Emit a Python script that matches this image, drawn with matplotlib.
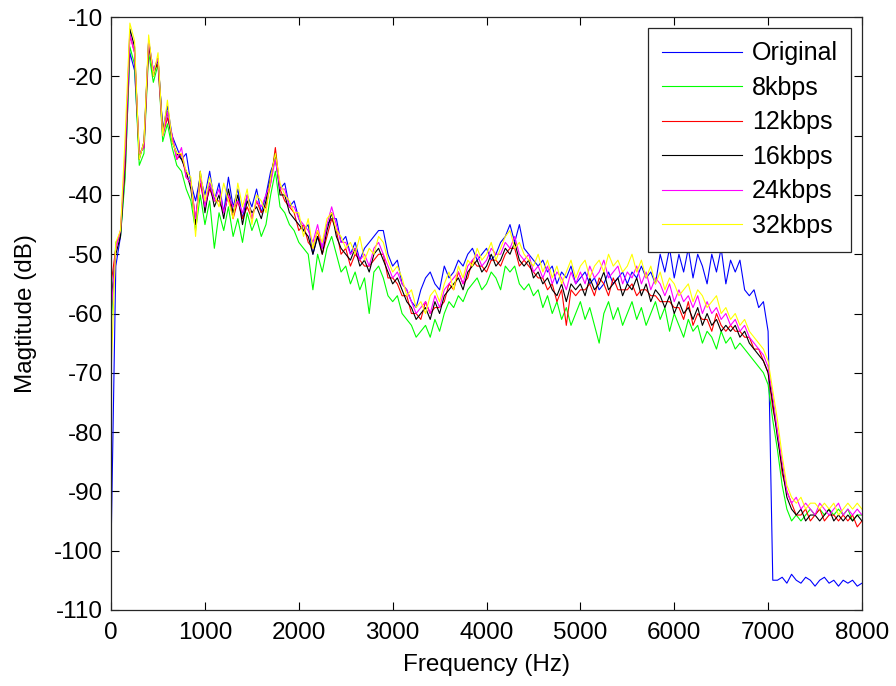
import numpy as np
import matplotlib
matplotlib.use('Agg')
import matplotlib.pyplot as plt

plt.rcParams['font.family'] = ['Liberation Sans', 'DejaVu Sans']
plt.rcParams['axes.unicode_minus'] = False

# частотная сетка, шаг 50 Гц
freq = np.arange(0, 8001, 50)

original = [
    -99, -52, -47, -36, -16, -19, -33, -32, -14, -19,
    -17, -29, -25, -30, -32, -34, -33, -38, -41, -37,
    -40, -36, -41, -38, -43, -37, -42, -39, -44, -40,
    -42, -39, -43, -40, -36, -34, -39, -38, -42, -41,
    -44, -46, -45, -50, -47, -49, -45, -44, -44, -48,
    -47, -50, -48, -51, -49, -48, -47, -46, -46, -50,
    -52, -51, -55, -56, -58, -59, -56, -54, -53, -55,
    -56, -52, -54, -53, -51, -52, -50, -49, -51, -50,
    -49, -51, -50, -48, -47, -45, -48, -45, -49, -50,
    -51, -52, -51, -53, -52, -55, -53, -54, -52, -55,
    -54, -53, -55, -54, -56, -55, -53, -55, -54, -53,
    -55, -53, -54, -52, -54, -53, -55, -50, -53, -49,
    -54, -50, -53, -49, -54, -50, -52, -55, -50, -53,
    -49, -55, -51, -53, -51, -56, -57, -56, -59, -58,
    -63, -105, -105, -104.5, -105.5, -104, -105, -105.5, -104.5, -105,
    -106, -105, -104.5, -105.5, -105, -106, -105, -105.5, -105, -106,
    -105.5,
]

kbps8 = [
    -62, -48, -47, -37, -15, -18, -35, -33, -16, -21,
    -18, -31, -28, -32, -35, -36, -39, -41, -46, -40,
    -45, -41, -49, -43, -46, -42, -47, -44, -48, -43,
    -46, -44, -47, -45, -40, -36, -42, -43, -45, -46,
    -48, -49, -50, -56, -50, -53, -49, -47, -50, -53,
    -52, -55, -53, -56, -54, -60, -53, -52, -54, -57,
    -58, -57, -60, -61, -62, -64, -63, -62, -64, -61,
    -63, -60, -58, -59, -57, -58, -56, -55, -54, -56,
    -55, -53, -54, -56, -52, -53, -52, -55, -56, -55,
    -57, -56, -59, -57, -60, -58, -61, -59, -62, -60,
    -58, -61, -59, -62, -65, -60, -58, -61, -59, -62,
    -60, -58, -61, -59, -62, -60, -58, -61, -59, -63,
    -60, -62, -64, -61, -63, -62, -65, -63, -64, -66,
    -63, -65, -64, -66, -65, -66, -67, -68, -69, -70,
    -72, -78, -83, -89, -93, -95, -94, -95, -94, -93,
    -94, -93, -94, -93, -94, -93, -94, -93, -95, -94,
    -94,
]

kbps12 = [
    -55, -49, -46, -35, -13, -16, -33, -32, -15, -19,
    -18, -30, -27, -30, -34, -33, -37, -38, -44, -38,
    -42, -39, -41, -41, -43, -40, -44, -41, -44, -42,
    -44, -41, -43, -42, -38, -32, -39, -41, -42, -43,
    -46, -45, -48, -49, -46, -50, -47, -44, -46, -50,
    -49, -52, -50, -51, -52, -52, -51, -50, -50, -54,
    -54, -55, -57, -57, -60, -60, -61, -58, -60, -59,
    -59, -58, -55, -56, -53, -55, -54, -51, -52, -52,
    -53, -51, -51, -52, -50, -49, -49, -52, -51, -52,
    -53, -54, -54, -56, -55, -58, -56, -62, -56, -57,
    -56, -56, -55, -57, -54, -55, -57, -54, -56, -56,
    -56, -55, -57, -56, -56, -57, -57, -58, -58, -58,
    -59, -59, -61, -58, -62, -60, -61, -61, -63, -60,
    -62, -63, -62, -63, -63, -64, -64, -66, -66, -68,
    -70, -76, -80, -87, -90, -92, -94, -94, -93, -95,
    -94, -93, -95, -94, -94, -95, -94, -95, -94, -96,
    -95,
]

kbps16 = [
    -58, -50, -47, -34, -12, -15, -34, -31, -14, -20,
    -17, -29, -26, -31, -33, -34, -36, -39, -45, -36,
    -43, -38, -42, -40, -44, -39, -43, -40, -45, -41,
    -43, -42, -44, -41, -37, -33, -40, -40, -43, -44,
    -45, -46, -47, -50, -47, -50, -46, -43, -47, -49,
    -50, -51, -49, -52, -51, -53, -50, -49, -51, -53,
    -55, -54, -56, -58, -59, -61, -60, -59, -61, -58,
    -60, -57, -56, -55, -54, -56, -53, -52, -51, -53,
    -52, -50, -52, -51, -49, -50, -48, -51, -52, -51,
    -54, -53, -55, -54, -56, -57, -55, -58, -55, -56,
    -55, -57, -54, -56, -55, -53, -56, -55, -54, -57,
    -55, -56, -54, -57, -55, -58, -56, -57, -59, -57,
    -60, -58, -60, -59, -61, -59, -62, -60, -62, -61,
    -63, -62, -63, -62, -64, -63, -65, -66, -67, -68,
    -70, -75, -81, -86, -91, -93, -94, -93, -95, -94,
    -94, -95, -94, -93, -95, -94, -95, -94, -95, -94,
    -95,
]

kbps24 = [
    -60, -49, -46, -33, -13, -16, -33, -32, -14, -19,
    -17, -30, -26, -30, -34, -32, -37, -38, -44, -37,
    -42, -38, -41, -39, -43, -40, -42, -41, -43, -40,
    -44, -41, -42, -40, -38, -34, -39, -39, -42, -42,
    -44, -45, -46, -48, -45, -49, -45, -42, -45, -48,
    -48, -50, -49, -51, -50, -52, -49, -48, -50, -52,
    -54, -53, -55, -56, -58, -60, -59, -58, -60, -57,
    -59, -56, -55, -54, -53, -55, -52, -51, -50, -52,
    -51, -49, -50, -50, -48, -49, -47, -50, -51, -50,
    -53, -52, -54, -52, -55, -53, -54, -56, -53, -55,
    -53, -55, -52, -54, -53, -51, -54, -53, -52, -55,
    -53, -54, -52, -55, -53, -56, -54, -55, -57, -55,
    -58, -56, -58, -57, -59, -57, -60, -58, -60, -59,
    -61, -60, -62, -61, -63, -62, -64, -65, -66, -67,
    -69, -74, -80, -85, -90, -92, -91, -93, -92, -93,
    -94, -92, -93, -94, -93, -92, -94, -93, -94, -93,
    -94,
]

kbps32 = [
    -70, -48, -46, -30, -11, -14, -34, -31, -13, -20,
    -16, -30, -24, -31, -33, -33, -36, -37, -47, -36,
    -41, -37, -40, -42, -38, -41, -44, -38, -42, -39,
    -45, -40, -41, -43, -37, -33, -38, -40, -41, -43,
    -43, -47, -44, -49, -46, -48, -44, -43, -46, -47,
    -49, -48, -50, -47, -51, -49, -50, -47, -48, -51,
    -53, -52, -54, -57, -56, -59, -58, -60, -57, -56,
    -58, -55, -53, -56, -52, -54, -51, -52, -49, -51,
    -50, -48, -51, -49, -47, -46, -49, -48, -50, -51,
    -52, -50, -53, -51, -54, -52, -55, -53, -51, -54,
    -52, -51, -54, -52, -51, -53, -50, -52, -51, -53,
    -52, -50, -53, -51, -54, -52, -55, -53, -56, -54,
    -55, -57, -56, -55, -58, -56, -57, -59, -58, -57,
    -60, -59, -61, -60, -62, -61, -63, -64, -65, -66,
    -68, -73, -78, -84, -89, -91, -92, -91, -93, -92,
    -92, -93, -92, -93, -92, -94, -93, -92, -93, -92,
    -93,
]

names = ['Original', '8kbps', '12kbps', '16kbps', '24kbps', '32kbps']
series = [original, kbps8, kbps12, kbps16, kbps24, kbps32]
colors = ['#0000ff', '#00ff00', '#ff0000', '#000000', '#ff00ff', '#ffff00']

fig = plt.figure(figsize=(8.96, 6.86), dpi=100)
ax = fig.add_axes([0.124, 0.111, 0.838, 0.864])

for name, y, c in zip(names, series, colors):
    ax.plot(freq, y, color=c, lw=0.8, label=name)

ax.set_xlim(0, 8000)
ax.set_ylim(-110, -10)
ax.set_xticks(np.arange(0, 8001, 1000))
ax.set_yticks(np.arange(-110, -9, 10))
ax.tick_params(direction='in', top=True, right=True, length=6, width=0.8,
               labelsize=17.5)
ax.tick_params(axis='x', pad=9)
ax.tick_params(axis='y', pad=6)
for sp in ax.spines.values():
    sp.set_linewidth(0.9)
    sp.set_color('#262626')

ax.set_xlabel('Frequency (Hz)', fontsize=17.5, labelpad=7)
ax.set_ylabel('Magtitude (dB)', fontsize=17.5, labelpad=12)

leg = ax.legend(loc='upper right', fontsize=18, frameon=True, fancybox=False,
                edgecolor='#262626', framealpha=1, handlelength=3.2,
                handletextpad=0.4, labelspacing=0.42, borderpad=0.55,
                borderaxespad=0.42)
leg.get_frame().set_linewidth(0.9)

fig.savefig('out.png', dpi=100)
